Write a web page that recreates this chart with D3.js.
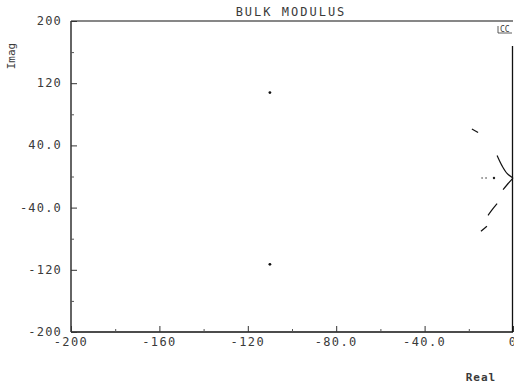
<!DOCTYPE html>
<html>
<head>
<meta charset="utf-8">
<script src="https://cdn.jsdelivr.net/npm/d3@7"></script>
<style>
  body { margin: 0; background: #fff; }
  text { font-family: "DejaVu Sans Mono", monospace; fill: #3a3a3a; }
</style>
</head>
<body>
<div id="chart"></div>
<script>
// data
const xTicks = [-200, -160, -120, -80, -40, 0];
const xTickLabels = ["-200", "-160", "-120", "-80.0", "-40.0", "0"];
const yTicks = [200, 120, 40, -40, -120, -200];
const yTickLabels = ["200", "120", "40.0", "-40.0", "-120", "-200"];
const poles = [[-110, 108], [-110, -113]];
const dots = [[-14, -2], [-12.2, -2], [-8.6, -2]];
const branches = [
    [[-18.6, 61], [-15.8, 56.5]],
    [[-7.2, 27], [-5, 14], [-2.7, 4], [0, -2]],
    [[0, -2], [-2.2, -9], [-4.5, -17]],
    [[-7.2, -35], [-9.5, -43], [-11.3, -50]],
    [[-11.8, -64], [-14.5, -70.5]]
];

const width = 514, height = 385;
const plotLeft = 71, plotRight = 513, plotTop = 21, plotBottom = 332;

const svg = d3.select('#chart').append('svg')
    .attr('width', width)
    .attr('height', height);

const x = d3.scaleLinear().domain([-200, 0]).range([plotLeft, plotRight]);
const y = d3.scaleLinear().domain([-200, 200]).range([plotBottom, plotTop]);

// frame
svg.append('line').attr('x1', plotLeft).attr('x2', plotLeft).attr('y1', plotTop).attr('y2', plotBottom)
    .attr('stroke', '#111').attr('stroke-width', 1.3);
svg.append('line').attr('x1', plotLeft).attr('x2', plotRight).attr('y1', plotBottom).attr('y2', plotBottom)
    .attr('stroke', '#111').attr('stroke-width', 1.6);
svg.append('line').attr('x1', plotLeft).attr('x2', plotRight).attr('y1', plotTop).attr('y2', plotTop)
    .attr('stroke', '#111').attr('stroke-width', 1.1);
svg.append('line').attr('x1', plotRight - 0.5).attr('x2', plotRight - 0.5).attr('y1', 46).attr('y2', plotBottom)
    .attr('stroke', '#111').attr('stroke-width', 1.3);

// axes, ticks pointing inward
const xAxis = d3.axisTop(x).tickValues(xTicks).tickSize(6).tickFormat('');
const yAxis = d3.axisRight(y).tickValues(yTicks).tickSize(6).tickFormat('');
svg.append('g').attr('transform', `translate(0,${plotBottom})`).call(xAxis)
    .call(g => g.select('.domain').remove())
    .selectAll('line').attr('stroke', '#333');
svg.append('g').attr('transform', `translate(${plotLeft},0)`).call(yAxis)
    .call(g => g.select('.domain').remove())
    .selectAll('line').attr('stroke', '#333');

// minor ticks
const xMinor = d3.range(-180, 0, 40);
const yMinor = d3.range(-160, 200, 80);
svg.append('g').attr('transform', `translate(0,${plotBottom})`)
    .call(d3.axisTop(x).tickValues(xMinor).tickSize(3).tickFormat(''))
    .call(g => g.select('.domain').remove())
    .selectAll('line').attr('stroke', '#555');
svg.append('g').attr('transform', `translate(${plotLeft},0)`)
    .call(d3.axisRight(y).tickValues(yMinor).tickSize(3).tickFormat(''))
    .call(g => g.select('.domain').remove())
    .selectAll('line').attr('stroke', '#555');

// tick labels
svg.append('g').selectAll('text')
    .data(xTicks)
    .enter().append('text')
    .attr('x', d => x(d))
    .attr('y', plotBottom + 14)
    .attr('text-anchor', 'middle')
    .attr('font-size', 12)
    .attr('letter-spacing', 1.4)
    .text((d, i) => xTickLabels[i]);

svg.append('g').selectAll('text')
    .data(yTicks)
    .enter().append('text')
    .attr('x', plotLeft - 9)
    .attr('y', d => y(d) + 4)
    .attr('text-anchor', 'end')
    .attr('font-size', 12)
    .attr('letter-spacing', 1.2)
    .text((d, i) => yTickLabels[i]);

// titles
svg.append('text').attr('x', 291).attr('y', 16).attr('text-anchor', 'middle')
    .attr('font-size', 12).attr('letter-spacing', 2).text('BULK MODULUS');
svg.append('text').attr('transform', 'translate(15,56) rotate(-90)')
    .attr('text-anchor', 'middle').attr('font-size', 11).text('Imag');
svg.append('text').attr('x', 481).attr('y', 381).attr('text-anchor', 'middle')
    .attr('font-size', 11).attr('font-weight', 'bold').attr('letter-spacing', 1).text('Real');
svg.append('text').attr('x', 500).attr('y', 32).attr('font-size', 8).text('CC');
svg.append('path').attr('d', 'M498,26 V33 H512').attr('fill', 'none')
    .attr('stroke', '#333').attr('stroke-width', 0.8);

// poles
svg.append('g').selectAll('circle')
    .data(poles)
    .enter().append('circle')
    .attr('cx', d => x(d[0]))
    .attr('cy', d => y(d[1]))
    .attr('r', 1.4)
    .attr('fill', '#111');

svg.append('g').selectAll('circle')
    .data(dots)
    .enter().append('circle')
    .attr('cx', d => x(d[0]))
    .attr('cy', d => y(d[1]))
    .attr('r', (d, i) => i === 2 ? 1.2 : 0.7)
    .attr('fill', '#222');

// locus branches
const line = d3.line().x(d => x(d[0])).y(d => y(d[1])).curve(d3.curveCatmullRom);
svg.append('g').selectAll('path')
    .data(branches)
    .enter().append('path')
    .attr('d', line)
    .attr('fill', 'none')
    .attr('stroke', '#111')
    .attr('stroke-width', 1.2);
</script>
</body>
</html>
